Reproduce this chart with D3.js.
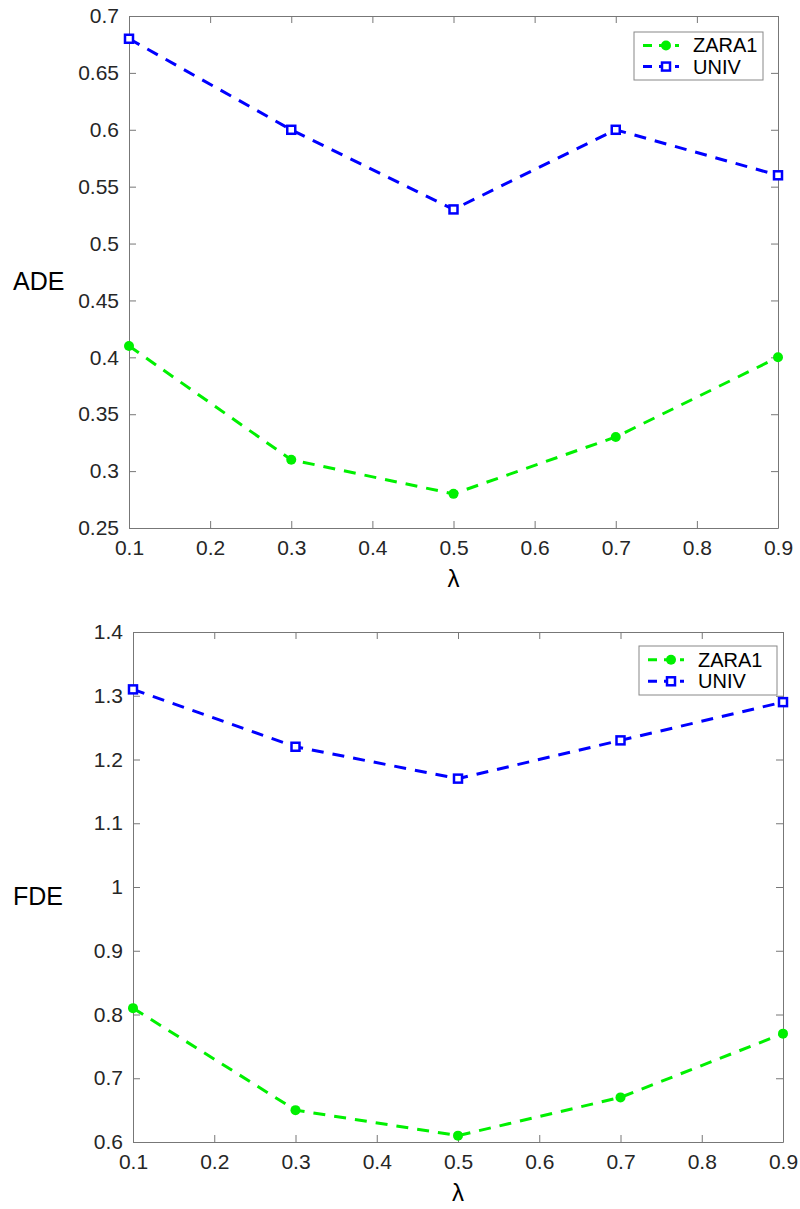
<!DOCTYPE html>
<html>
<head>
<meta charset="utf-8">
<script src="https://cdn.jsdelivr.net/npm/d3@7"></script>
<style>
  body { margin: 0; background: #fff; }
  svg { font-family: "Liberation Sans", Arial, sans-serif; }
  .axis text { font-size: 21px; font-family: "Liberation Sans", Arial, sans-serif; fill: #262626; }
</style>
</head>
<body>
<div id="chart"></div>
<script>
// Data
const lambdas = [0.1, 0.3, 0.5, 0.7, 0.9];
const xTicks = [0.1, 0.2, 0.3, 0.4, 0.5, 0.6, 0.7, 0.8, 0.9];
const seriesNames = ["ZARA1", "UNIV"];

const adeZara = [0.41, 0.31, 0.28, 0.33, 0.40];
const adeUniv = [0.68, 0.60, 0.53, 0.60, 0.56];
const adeTicks = [0.25, 0.3, 0.35, 0.4, 0.45, 0.5, 0.55, 0.6, 0.65, 0.7];

const fdeZara = [0.81, 0.65, 0.61, 0.67, 0.77];
const fdeUniv = [1.31, 1.22, 1.17, 1.23, 1.29];
const fdeTicks = [0.6, 0.7, 0.8, 0.9, 1, 1.1, 1.2, 1.3, 1.4];

const width = 800, height = 1209;
const green = "#00f000", blue = "#0000ff";
const axisColor = "#777";
const dash = "12,9";

const svg = d3.select("#chart").append("svg")
  .attr("width", width)
  .attr("height", height);

// restyle an axis group after d3 has drawn it
function styleAxis(ax) {
  ax.attr("class", "axis")
    .attr("font-size", 21)
    .attr("font-family", null);
  ax.select(".domain").attr("stroke", axisColor);
  ax.selectAll(".tick line").attr("stroke", axisColor);
}

function panel(opts) {
  const { left, right, top, bottom, yDomain, yTicks, yLabel, zara, univ, legend } = opts;

  const x = d3.scaleLinear().domain([0.1, 0.9]).range([left, right]);
  const y = d3.scaleLinear().domain(yDomain).range([bottom, top]);

  const g = svg.append("g");
  const fmt = d => String(+d.toFixed(2));

  // axes (ticks inside, mirrored)
  const tickLen = 7;
  g.append("g").attr("transform", `translate(0,${bottom})`)
    .call(d3.axisBottom(x).tickValues(xTicks).tickFormat(fmt).tickSize(-tickLen).tickPadding(12).tickSizeOuter(0))
    .call(styleAxis);
  g.append("g").attr("transform", `translate(0,${top})`)
    .call(d3.axisTop(x).tickValues(xTicks).tickFormat("").tickSize(-tickLen).tickSizeOuter(0))
    .call(styleAxis);
  g.append("g").attr("transform", `translate(${left},0)`)
    .call(d3.axisLeft(y).tickValues(yTicks).tickFormat(fmt).tickSize(-tickLen).tickPadding(10).tickSizeOuter(0))
    .call(styleAxis);
  g.append("g").attr("transform", `translate(${right},0)`)
    .call(d3.axisRight(y).tickValues(yTicks).tickFormat("").tickSize(-tickLen).tickSizeOuter(0))
    .call(styleAxis);

  // axis labels
  g.append("text")
    .attr("x", 13).attr("y", (top + bottom) / 2 + 18)
    .attr("font-size", 25).attr("fill", "#000")
    .text(yLabel);
  g.append("text")
    .attr("x", (left + right) / 2).attr("y", bottom + 59)
    .attr("text-anchor", "middle")
    .attr("font-size", 24).attr("fill", "#000")
    .text("λ");

  const line = d3.line().x((d, i) => x(lambdas[i])).y(d => y(d));

  g.append("path").datum(zara)
    .attr("fill", "none").attr("stroke", green).attr("stroke-width", 3)
    .attr("stroke-dasharray", dash).attr("d", line);
  g.append("path").datum(univ)
    .attr("fill", "none").attr("stroke", blue).attr("stroke-width", 3)
    .attr("stroke-dasharray", dash).attr("d", line);

  g.selectAll(".zm").data(zara).enter().append("circle")
    .attr("cx", (d, i) => x(lambdas[i])).attr("cy", d => y(d))
    .attr("r", 5).attr("fill", green);
  g.selectAll(".um").data(univ).enter().append("rect")
    .attr("x", (d, i) => x(lambdas[i]) - 4).attr("y", d => y(d) - 4)
    .attr("width", 8).attr("height", 8)
    .attr("fill", "#fff").attr("stroke", blue).attr("stroke-width", 2.5);

  // legend
  const lg = g.append("g").attr("transform", `translate(${legend.x},${legend.y})`);
  lg.append("rect").attr("width", legend.w).attr("height", legend.h)
    .attr("fill", "#fff").attr("stroke", "#888").attr("stroke-width", 1);
  seriesNames.forEach((name, i) => {
    const cy = legend.h * (i === 0 ? 0.28 : 0.72);
    const c = i === 0 ? green : blue;
    lg.append("line").attr("x1", 9).attr("x2", 45).attr("y1", cy).attr("y2", cy)
      .attr("stroke", c).attr("stroke-width", 3).attr("stroke-dasharray", "9,7");
    if (i === 0) {
      lg.append("circle").attr("cx", 32).attr("cy", cy).attr("r", 5).attr("fill", c);
    } else {
      lg.append("rect").attr("x", 28).attr("y", cy - 4).attr("width", 8).attr("height", 8)
        .attr("fill", "#fff").attr("stroke", c).attr("stroke-width", 2.5);
    }
    lg.append("text").attr("x", 59).attr("y", cy + 7)
      .attr("font-size", 20).attr("fill", "#000").text(name);
  });
}

panel({
  left: 129, right: 778, top: 16, bottom: 528,
  yDomain: [0.25, 0.7], yTicks: adeTicks, yLabel: "ADE",
  zara: adeZara, univ: adeUniv,
  legend: { x: 634, y: 32, w: 129, h: 48 }
});

panel({
  left: 133, right: 783, top: 632, bottom: 1142,
  yDomain: [0.6, 1.4], yTicks: fdeTicks, yLabel: "FDE",
  zara: fdeZara, univ: fdeUniv,
  legend: { x: 639, y: 646, w: 138, h: 49 }
});
</script>
</body>
</html>
